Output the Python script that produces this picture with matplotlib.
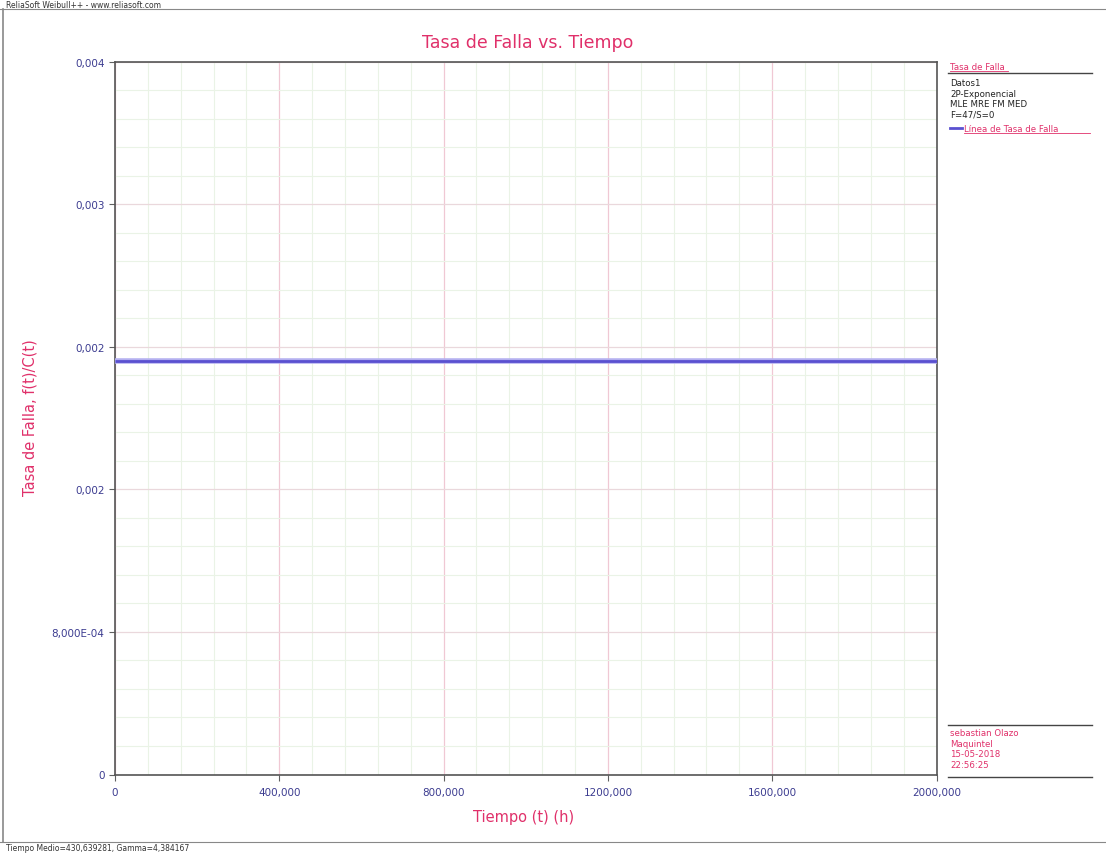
import matplotlib
matplotlib.use("Agg")
import matplotlib.pyplot as plt
from matplotlib.lines import Line2D
from matplotlib.ticker import FixedLocator, MultipleLocator

# ---- data ----
x_ticks = [0, 400000, 800000, 1200000, 1600000, 2000000]
x_tick_labels = ["0", "400,000", "800,000", "1200,000", "1600,000", "2000,000"]
y_ticks = [0, 0.0008, 0.0016, 0.0024, 0.0032, 0.004]
y_tick_labels = ["0", "8,000E-04", "0,002", "0,002", "0,003", "0,004"]
line_x = [0, 2000000]
line_y = [0.002322, 0.002322]
legend_info = ["Datos1", "2P-Exponencial", "MLE MRE FM MED", "F=47/S=0"]
user_info = ["sebastian Olazo", "Maquintel", "15-05-2018", "22:56:25"]

RED = "#e0306a"
BLUE_TXT = "#3c3c90"
W, H = 1106, 854

fig = plt.figure(figsize=(W / 100, H / 100), dpi=100)
fig.patch.set_facecolor("white")

def fx(px):
    return px / W

def fy(py):
    return 1 - py / H

ax = fig.add_axes([fx(115), fy(775.5), fx(936.5) - fx(115), fy(62.5) - fy(775.5)])
ax.set_xlim(0, 2000000)
ax.set_ylim(0, 0.004)

ax.xaxis.set_major_locator(FixedLocator(x_ticks))
ax.yaxis.set_major_locator(FixedLocator(y_ticks))
ax.xaxis.set_minor_locator(MultipleLocator(80000))
ax.yaxis.set_minor_locator(MultipleLocator(0.00016))
ax.set_xticklabels(x_tick_labels)
ax.set_yticklabels(y_tick_labels)

ax.grid(which="minor", color="#eaf3e6", linewidth=0.8)
ax.xaxis.grid(which="major", color="#f0c8d4", linewidth=0.9)
ax.yaxis.grid(which="major", color="#ead8dc", linewidth=0.9)
ax.set_axisbelow(True)

ax.tick_params(axis="both", which="major", labelsize=7.5, labelcolor=BLUE_TXT,
               color="#606060", length=4, width=0.8)
ax.tick_params(axis="x", which="major", pad=5)
ax.tick_params(axis="both", which="minor", length=0)
for s in ax.spines.values():
    s.set_color("#555555")
    s.set_linewidth(1.2)

ax.plot(line_x, line_y, color="#b4b0f0", linewidth=4.0, solid_capstyle="butt", zorder=3)
ax.plot(line_x, line_y, color="#5a50d0", linewidth=2.0, solid_capstyle="butt", zorder=4)

fig.text(fx(528), fy(43), "Tasa de Falla vs. Tiempo", color=RED, fontsize=12.5,
         ha="center", va="center")
fig.text(fx(524), fy(818), "Tiempo (t) (h)", color=RED, fontsize=10.5,
         ha="center", va="center")
fig.text(fx(30), fy(418), "Tasa de Falla, f(t)/C(t)", color=RED, fontsize=10.5,
         ha="center", va="center", rotation=90)

# header and status bars
fig.text(fx(6), fy(5), "ReliaSoft Weibull++ - www.reliasoft.com", fontsize=5.5,
         color="#333333", ha="left", va="center")
fig.add_artist(Line2D([fx(0), fx(1106)], [fy(10), fy(10)], color="#888888", linewidth=0.8))
fig.add_artist(Line2D([fx(3), fx(3)], [fy(10), fy(843)], color="#888888", linewidth=1.2))
fig.add_artist(Line2D([fx(0), fx(1106)], [fy(843), fy(843)], color="#888888", linewidth=0.8))
fig.text(fx(6), fy(849), "Tiempo Medio=430,639281, Gamma=4,384167", fontsize=5.5,
         color="#333333", ha="left", va="center")

# legend area
fig.text(fx(950), fy(67), "Tasa de Falla", color=RED, fontsize=6.2, ha="left",
         va="center")
fig.add_artist(Line2D([fx(950), fx(1008)], [fy(71.5), fy(71.5)], color=RED, linewidth=0.6))
fig.add_artist(Line2D([fx(948), fx(1092)], [fy(74), fy(74)], color="#444444", linewidth=1.0))
for i, t in enumerate(legend_info):
    fig.text(fx(950), fy(84 + i * 10.3), t, color="#222222", fontsize=6.2,
             ha="left", va="center")
fig.add_artist(Line2D([fx(950), fx(962)], [fy(129), fy(129)], color="#5a50d0", linewidth=2.0))
fig.text(fx(964), fy(129), "Línea de Tasa de Falla", color=RED, fontsize=6.2,
         ha="left", va="center")
fig.add_artist(Line2D([fx(964), fx(1090)], [fy(134), fy(134)], color=RED, linewidth=0.6))

fig.add_artist(Line2D([fx(948), fx(1092)], [fy(726), fy(726)], color="#444444", linewidth=1.0))
for i, t in enumerate(user_info):
    fig.text(fx(950), fy(734 + i * 10.5), t, color=RED, fontsize=6.2,
             ha="left", va="center")
fig.add_artist(Line2D([fx(948), fx(1092)], [fy(778), fy(778)], color="#444444", linewidth=1.0))

fig.savefig("out.png", dpi=100, facecolor="white")
